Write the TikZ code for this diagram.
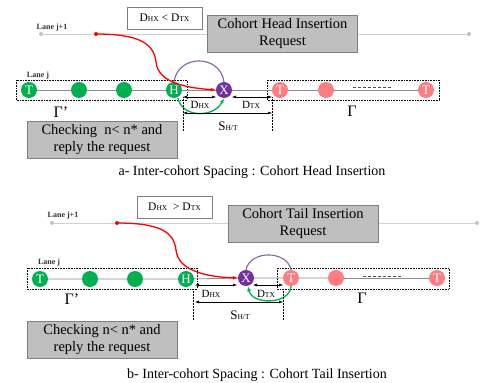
\documentclass[tikz,border=0pt]{standalone}
\usepackage{fontspec}
\setmainfont{Liberation Serif}
\usetikzlibrary{arrows.meta,calc}
\definecolor{cgreen}{HTML}{00B050}
\definecolor{cpink}{HTML}{FF7C80}
\definecolor{cpurple}{HTML}{7030A0}
\definecolor{carc}{HTML}{8064A2}
\definecolor{boxgray}{HTML}{BFBFBF}
\definecolor{boxedge}{HTML}{7F7F7F}
\definecolor{lanegray}{HTML}{8C8C8C}
\definecolor{lanelight}{HTML}{D0D0D0}
\newcommand{\dsub}[2]{#1{\fontsize{7.5}{7.5}\selectfont #2}}
\tikzset{
 veh/.style={circle,fill=#1,minimum size=16pt,inner sep=0pt,text=white,font=\fontsize{13}{13}\selectfont},
 greybox/.style={draw=boxedge,fill=boxgray,line width=0.9pt,align=center,font=\fontsize{14.5}{17}\selectfont,inner sep=0pt,minimum width=150pt,minimum height=37pt},
 condbox/.style={draw=boxedge,fill=white,line width=0.6pt,inner sep=0pt,minimum width=75pt,minimum height=22pt,font=\fontsize{11.5}{11.5}\selectfont},
 cohortbox/.style={draw,densely dotted,line width=0.6pt},
 dimline/.style={{Latex[length=4pt,width=3pt]}-{Latex[length=4pt,width=3pt]},line width=0.5pt},
 guide/.style={densely dotted,line width=0.5pt},
 lanej/.style={draw=lanegray,line width=0.8pt},
 lanejj/.style={draw=lanelight,line width=1pt},
 redpath/.style={red,line width=1.3pt,-{Latex[length=5pt,width=4pt]}},
 purplearc/.style={carc,line width=1.1pt},
 greenarc/.style={cgreen,line width=1.3pt,-{Latex[length=5pt,width=4pt]}},
 lanelabel/.style={font=\fontsize{8}{8}\selectfont\bfseries,text=black!80,inner sep=0pt},
 lbl/.style={font=\fontsize{11}{11}\selectfont,inner sep=0pt},
 gam/.style={font=\fontsize{16}{16}\selectfont,inner sep=0pt},
 caption/.style={font=\fontsize{14}{14}\selectfont,inner sep=0pt},
 startdot/.style={circle,fill=red,inner sep=0pt,minimum size=4pt},
 enddot/.style={circle,fill=lanelight!80!gray,inner sep=0pt,minimum size=4pt},
}
\begin{document}
\begin{tikzpicture}[x=1pt,y=-1pt]
\useasboundingbox (0,0) rectangle (480,383);
% ================= panel a =================
\node[enddot] (aL0) at (41,34) {};
\node[enddot] (aL1) at (469,34) {};
\draw[lanejj] (aL0) -- (aL1);
\node[lanelabel] (alab1) at (52,28) {Lane j+1};
\node[lanelabel] (alab2) at (38,76) {Lane j};
\node[condbox] (acond) at (164.5,18) {\dsub{D}{HX} < \dsub{D}{TX}};
\node[greybox] (areq) at (282.5,33.5) {Cohort Head Insertion\\Request};
\draw[cohortbox] (16,80) rectangle (187,100);
\draw[cohortbox] (267,80) rectangle (439,100);
\node[veh=cgreen] (aT) at (29,90) {T};
\node[veh=cgreen] (ag1) at (79,90) {};
\node[veh=cgreen] (ag2) at (124,90) {};
\node[veh=cgreen] (aH) at (174,90) {H};
\node[veh=cpurple] (aX) at (224,90) {X};
\node[veh=cpink] (aT2) at (280,90) {T};
\node[veh=cpink] (ap1) at (326,90) {};
\node[veh=cpink] (aT3) at (426,90) {T};
\draw[lanej] (aT) -- (ag1) -- (ag2) -- (aH) -- (aX) -- (aT2) -- (ap1);
\draw[lanej] (ap1) -- (aT3);
\draw[dash pattern=on 3pt off 2pt,line width=0.7pt,draw=black!70] (353,87) -- (391,87);
\node[gam] (agp) at (61,112) {Γ’};
\node[gam] (ag) at (352,111) {Γ};
\draw[purplearc] (aH.north) .. controls (178,54) and (220,54) .. (aX.north);
\draw[greenarc] ($(aH.south)+(4,0)$) .. controls (182,118) and (214,118) .. (aX.south);
\coordinate (aS0) at (96,34);
\draw[redpath] (aS0) .. controls (140,34) and (154,44) .. (156,62) .. controls (158,84) and (190,88) .. (aX.west);
\node[startdot] at (aS0) {};
\coordinate (aD0) at (183,97);
\coordinate (aD1) at (216,97);
\coordinate (aD2) at (232,97);
\coordinate (aD3) at (272,97);
\coordinate (aS1) at (183,113);
\coordinate (aS2) at (272,113);
\draw[dimline] (aD0) -- (aD1);
\draw[dimline] (aD2) -- (aD3);
\draw[dimline] (aS1) -- (aS2);
\draw[guide] (183,97) -- (183,131);
\draw[guide] (272,97) -- (272,131);
\node[lbl] (adhx) at (200,105) {\dsub{D}{HX}};
\node[lbl] (adtx) at (251,105) {\dsub{D}{TX}};
\node[lbl,font=\fontsize{13}{13}\selectfont] (asht) at (228,126) {\dsub{S}{H/T}};
\node[greybox] (achk) at (102,139.5) {Checking\ \ n< n* and\\reply the request};
\node[caption] (acap) at (252,172) {a- Inter-cohort Spacing : Cohort Head Insertion};
% ================= panel b =================
\node[enddot] (bL0) at (52,223) {};
\node[enddot] (bL1) at (477,223) {};
\draw[lanejj] (bL0) -- (bL1);
\node[lanelabel] (blab1) at (63,216) {Lane j+1};
\node[lanelabel] (blab2) at (49,263) {Lane j};
\node[condbox] (bcond) at (174.5,207) {\dsub{D}{HX}\ \ > \dsub{D}{TX}};
\node[greybox] (breq) at (303,224) {Cohort Tail Insertion\\Request};
\draw[cohortbox] (27,268) rectangle (197,289);
\draw[cohortbox] (277,268) rectangle (449,289);
\node[veh=cgreen] (bT) at (40,279) {T};
\node[veh=cgreen] (bg1) at (90,279) {};
\node[veh=cgreen] (bg2) at (135,279) {};
\node[veh=cgreen] (bH) at (186,279) {H};
\node[veh=cpurple] (bX) at (246,278) {X};
\node[veh=cpink] (bT2) at (291,278) {T};
\node[veh=cpink] (bp1) at (336,278) {};
\node[veh=cpink] (bT3) at (437,278) {T};
\draw[lanej] (bT) -- (bg1) -- (bg2) -- (bH) -- (bX) -- (bT2) -- (bp1);
\draw[lanej] (bp1) -- (bT3);
\draw[dash pattern=on 3pt off 2pt,line width=0.7pt,draw=black!70] (363,276) -- (402,276);
\node[gam] (bgp) at (72,299) {Γ’};
\node[gam] (bg) at (362,298) {Γ};
\draw[purplearc] (bX.north) .. controls (250,250) and (287,250) .. (bT2.north);
\draw[greenarc] (bT2.south) .. controls (290,305) and (252,305) .. ($(bX.south)+(2,0)$);
\coordinate (bS0) at (117,223);
\draw[redpath] (bS0) .. controls (160,223) and (174,232) .. (176,250) .. controls (178,272) and (210,277) .. (bX.west);
\node[startdot] at (bS0) {};
\coordinate (bD0) at (195,285);
\coordinate (bD1) at (237,285);
\coordinate (bD2) at (253,285);
\coordinate (bD3) at (283,285);
\coordinate (bS1) at (195,302);
\coordinate (bS2) at (283,302);
\draw[dimline] (bD0) -- (bD1);
\draw[dimline] (bD2) -- (bD3);
\draw[dimline] (bS1) -- (bS2);
\draw[guide] (193,289) -- (193,320);
\draw[guide] (283,289) -- (283,320);
\node[lbl] (bdhx) at (211,294) {\dsub{D}{HX}};
\node[lbl] (bdtx) at (266,294) {\dsub{D}{TX}};
\node[lbl,font=\fontsize{13}{13}\selectfont] (bsht) at (240,315) {\dsub{S}{H/T}};
\node[greybox] (bchk) at (102,340) {Checking n< n* and\\reply the request};
\node[caption] (bcap) at (257,375) {b- Inter-cohort Spacing : Cohort Tail Insertion};
\end{tikzpicture}
\end{document}
